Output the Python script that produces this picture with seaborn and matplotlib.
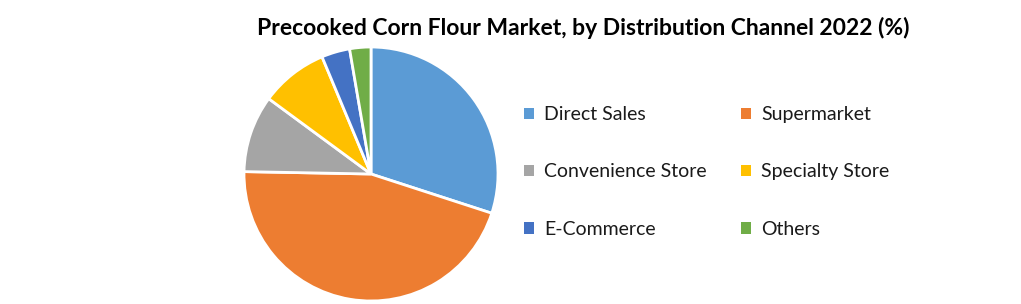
import matplotlib
matplotlib.use("Agg")
import matplotlib.pyplot as plt
import seaborn as sns
from matplotlib.patches import Patch

categories = ["Direct Sales", "Supermarket", "Convenience Store",
              "Specialty Store", "E-Commerce", "Others"]
shares = [30.0, 45.3, 9.8, 8.6, 3.6, 2.7]
colors = ["#5B9BD5", "#ED7D31", "#A5A5A5", "#FFC000", "#4472C4", "#70AD47"]
title = "Precooked Corn Flour Market, by Distribution Channel 2022 (%)"

sns.set_theme(style="white")
plt.rcParams["font.family"] = ["Lato", "DejaVu Sans"]
palette = sns.color_palette(colors)

W, H = 1021, 304
fig = plt.figure(figsize=(W / 100, H / 100), dpi=100)
cx, cy, r = 371, 174, 127
ax = fig.add_axes([(cx - r) / W, 1 - (cy + r) / H, 2 * r / W, 2 * r / H])
ax.pie(shares, colors=palette, startangle=90, counterclock=False,
       wedgeprops=dict(edgecolor="white", linewidth=2))
ax.set_xlim(-1, 1)
ax.set_ylim(-1, 1)
ax.set_aspect("equal")
ax.axis("off")

fig.text(583 / W, 1 - 28 / H, title, ha="center", va="center",
         fontsize=16.5, fontweight="bold", color="black")

# row-major order for a 2-column legend
order = [0, 2, 4, 1, 3, 5]
handles = [Patch(facecolor=palette[i], edgecolor="none") for i in order]
labels = [categories[i] for i in order]
leg = fig.legend(handles, labels, loc="upper left",
                 bbox_to_anchor=(524 / W, 1 - 106 / H), ncol=2, frameon=False,
                 fontsize=14, handlelength=0.5, handleheight=0.5,
                 handletextpad=0.55, columnspacing=1.75, labelspacing=2.08,
                 borderaxespad=0, borderpad=0)
for t in leg.get_texts():
    t.set_color("#1a1a1a")

fig.savefig("out.png", dpi=100)
